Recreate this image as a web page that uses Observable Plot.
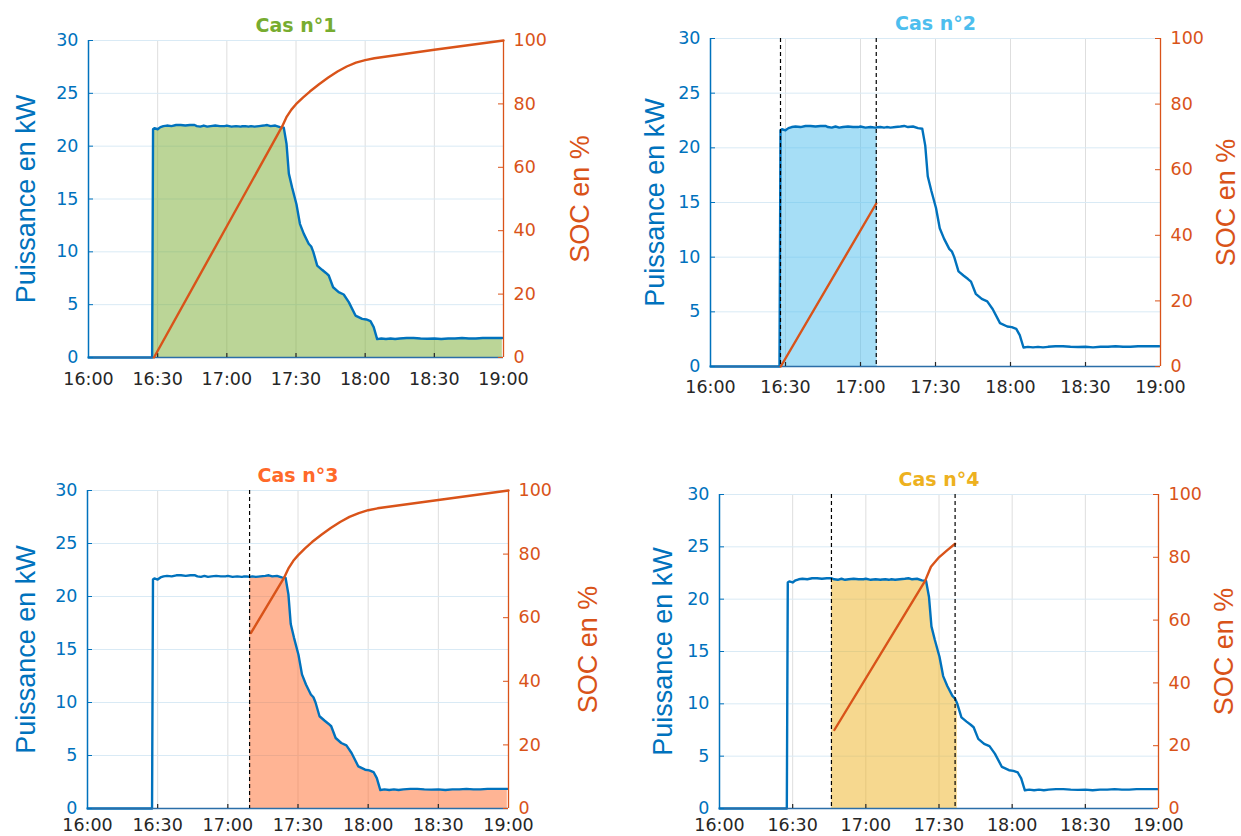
<!DOCTYPE html>
<html><head><meta charset="utf-8">
<script src="https://cdn.jsdelivr.net/npm/d3@7"></script>
<script src="https://cdn.jsdelivr.net/npm/@observablehq/plot@0.6"></script>
<style>
body{margin:0;background:#fff}
#root{position:relative;width:1241px;height:836px;overflow:hidden;background:#fff}
</style></head>
<body><div id="root"></div>
<script>
// ---- data ----
// x axis: minutes after 16:00
const tickMinutes = [0, 30, 60, 90, 120, 150, 180];
const tickLabels = ["16:00", "16:30", "17:00", "17:30", "18:00", "18:30", "19:00"];
const powerTicks = [0, 5, 10, 15, 20, 25, 30];
const socTicks = [0, 20, 40, 60, 80, 100];

// charging power (kW), same recording in all four cases
const powerT = [0, 27.6, 28.0, 28.6, 30, 31.2, 32.5, 34, 36, 38, 40, 42, 44, 46, 47, 48.5, 50, 51.5, 53, 55,
  57, 59, 60, 62, 64, 66, 66.7, 68, 69.4, 70.5, 72, 74, 76, 77.5, 79, 81, 83, 84.7, 85.9, 86.9,
  88.3, 90.2, 91.7, 93.4, 95.5, 96.6, 97.5, 99.2, 101.3, 103, 104.2, 106.1, 108.5, 110.7, 112.9,
  115.8, 118.7, 120.5, 122.3, 123.7, 125.2, 127, 129, 131, 133, 135, 138, 141, 144, 147, 150, 153,
  156, 159, 162, 165, 168, 171, 174, 177, 179.5];
const powerKW = [0, 0, 21.6, 21.7, 21.6, 21.8, 21.9, 21.95, 21.9, 22.0, 22.0, 21.95, 22.0, 22.0, 21.9, 21.85, 21.95, 21.85, 21.9, 21.95,
  21.9, 21.9, 21.95, 21.85, 21.9, 21.85, 21.88, 21.9, 21.85, 21.9, 21.85, 21.9, 21.95, 22.0, 21.9, 21.95, 21.8, 21.75, 20.2, 17.4,
  16.1, 14.5, 12.65, 11.7, 10.76, 10.5, 10.0, 8.7, 8.3, 8.0, 7.76, 6.65, 6.18, 5.96, 5.24,
  3.97, 3.66, 3.6, 3.44, 2.87, 1.74, 1.8, 1.75, 1.8, 1.75, 1.8, 1.85, 1.85, 1.8, 1.78, 1.8, 1.75,
  1.8, 1.8, 1.85, 1.8, 1.8, 1.85, 1.85, 1.85, 1.85];

// state of charge (%) per case
const soc1T = [28.4, 60, 84, 86, 88, 90, 93, 96, 100, 104, 108, 112, 116, 120, 124, 150, 180];
const soc1P = [0, 41.4, 72.9, 76.0, 78.2, 79.9, 82.0, 83.9, 86.2, 88.3, 90.2, 91.8, 93.0, 93.8, 94.4, 97.1, 100];
const soc2T = [28.1, 66.3];
const soc2P = [0, 49.7];
const soc3T = [69.9, 84, 86, 88, 90, 93, 96, 100, 104, 108, 112, 116, 120, 124, 150, 180];
const soc3P = [55.2, 72.5, 75.6, 77.9, 79.6, 81.8, 83.8, 86.1, 88.2, 90.1, 91.7, 92.9, 93.8, 94.4, 97.0, 100];
const soc4T = [47.1, 84.3, 86.7, 90, 93.3, 96.6];
const soc4P = [25.0, 72.5, 77.0, 80.0, 82.2, 84.3];

const titles = ["Cas n°1", "Cas n°2", "Cas n°3", "Cas n°4"];
const fillWindows = [[28.0, 179.5], [28.0, 66.7], [69.4, 179.5], [46, 97.5]];
const dashMarks = [[], [28.0, 66.3], [69.3], [45.9, 96.6]];

// ---- styles / layout ----
const titleColors = ["#77AC30", "#4DBEEE", "#FF6929", "#EDB120"];
const BLUE = "#0072BD", ORANGE = "#D95319";
const frames = [[88, 503, 40, 357], [710, 1160, 38, 366], [87, 508, 490, 808], [719, 1158, 494, 808]];
const leftLabelOff = [62, 55, 61, 56];
const rightLabelOff = [77, 66, 80, 66];
const xTickPad = [15, 14, 10, 10];
const M = {l: 100, r: 100, t: 45, b: 45};

const power = powerT.map((t, i) => ({t, p: powerKW[i]}));
const socs = [[soc1T, soc1P], [soc2T, soc2P], [soc3T, soc3P], [soc4T, soc4P]]
  .map(([T, P]) => T.map((t, i) => ({t, s: P[i]})));

const root = document.getElementById("root");
const tickFmt = d => tickLabels[tickMinutes.indexOf(d)];

titles.forEach((title, k) => {
  const [L, R, T, B] = frames[k];
  const fw = R - L, fh = B - T;
  const W = fw + M.l + M.r, H = fh + M.t + M.b;
  const common = {
    width: W, height: H,
    marginLeft: M.l, marginRight: M.r, marginTop: M.t, marginBottom: M.b,
    style: {background: "transparent", overflow: "visible", fontFamily: "DejaVu Sans", fontSize: "17.5px"},
    x: {domain: [0, 180], axis: null, label: null}
  };
  const [a, b] = fillWindows[k];
  const fillData = power.filter(d => d.t >= a && d.t <= b);

  const p1 = Plot.plot({
    ...common,
    y: {domain: [0, 30], axis: null, label: null},
    marks: [
      Plot.gridX(tickMinutes.slice(1, -1), {stroke: "#dedede", strokeOpacity: 1, strokeWidth: 1}),
      Plot.gridY(powerTicks.slice(1), {stroke: "#d9eaf5", strokeOpacity: 1, strokeWidth: 1}),
      Plot.areaY(fillData, {x: "t", y: "p", fill: titleColors[k], fillOpacity: 0.5}),
      Plot.line(power, {x: "t", y: "p", stroke: BLUE, strokeWidth: 2.4}),
      Plot.ruleY([0], {stroke: "#2b6ea8", strokeWidth: 1.5}),
      Plot.ruleX([0], {stroke: BLUE, strokeWidth: 1.5}),
      Plot.tickX(tickMinutes.slice(1, -1), {x: d => d, stroke: "#262626", strokeWidth: 1.2, insetTop: fh - 4}),
      Plot.tickY(powerTicks, {y: d => d, stroke: BLUE, insetRight: fw - 5}),
      Plot.axisX(tickMinutes, {tickSize: 0, tickPadding: xTickPad[k], tickFormat: tickFmt, label: null, color: "#262626", fontSize: 17.5, fontFamily: "DejaVu Sans"}),
      Plot.axisY(powerTicks, {anchor: "left", tickSize: 0, tickPadding: 10, label: null, color: BLUE, fontSize: 17.5, fontFamily: "DejaVu Sans"}),
      Plot.text([title], {text: d => d, frameAnchor: "top", dy: -15, lineAnchor: "middle", fill: titleColors[k],
        fontSize: 19, fontWeight: "bold", fontFamily: "DejaVu Sans"}),
      Plot.text(["Puissance en kW"], {text: d => d, frameAnchor: "left", dx: -leftLabelOff[k], rotate: -90,
        textAnchor: "middle", lineAnchor: "middle", fill: BLUE, fontSize: 27, fontFamily: "Liberation Sans"})
    ]
  });

  const p2 = Plot.plot({
    ...common,
    y: {domain: [0, 100], axis: null, label: null},
    marks: [
      Plot.line(socs[k], {x: "t", y: "s", stroke: ORANGE, strokeWidth: 2.4}),
      Plot.ruleX(dashMarks[k], {x: d => d, stroke: "#000", strokeWidth: 1.2, strokeDasharray: "4,3"}),
      Plot.ruleX([180], {stroke: ORANGE, strokeWidth: 1.3}),
      Plot.tickY(socTicks, {y: d => d, stroke: ORANGE, insetLeft: fw - 5}),
      Plot.axisY(socTicks, {anchor: "right", tickSize: 0, tickPadding: 10, label: null, color: ORANGE, fontSize: 17.5, fontFamily: "DejaVu Sans"}),
      Plot.text(["SOC en %"], {text: d => d, frameAnchor: "right", dx: rightLabelOff[k], rotate: -90,
        textAnchor: "middle", lineAnchor: "middle", fill: ORANGE, fontSize: 27, fontFamily: "Liberation Sans"})
    ]
  });

  for (const svg of [p1, p2]) {
    svg.style.position = "absolute";
    svg.style.left = (L - M.l) + "px";
    svg.style.top = (T - M.t) + "px";
    svg.style.maxWidth = "none";
    root.appendChild(svg);
  }
});
</script>
</body></html>
